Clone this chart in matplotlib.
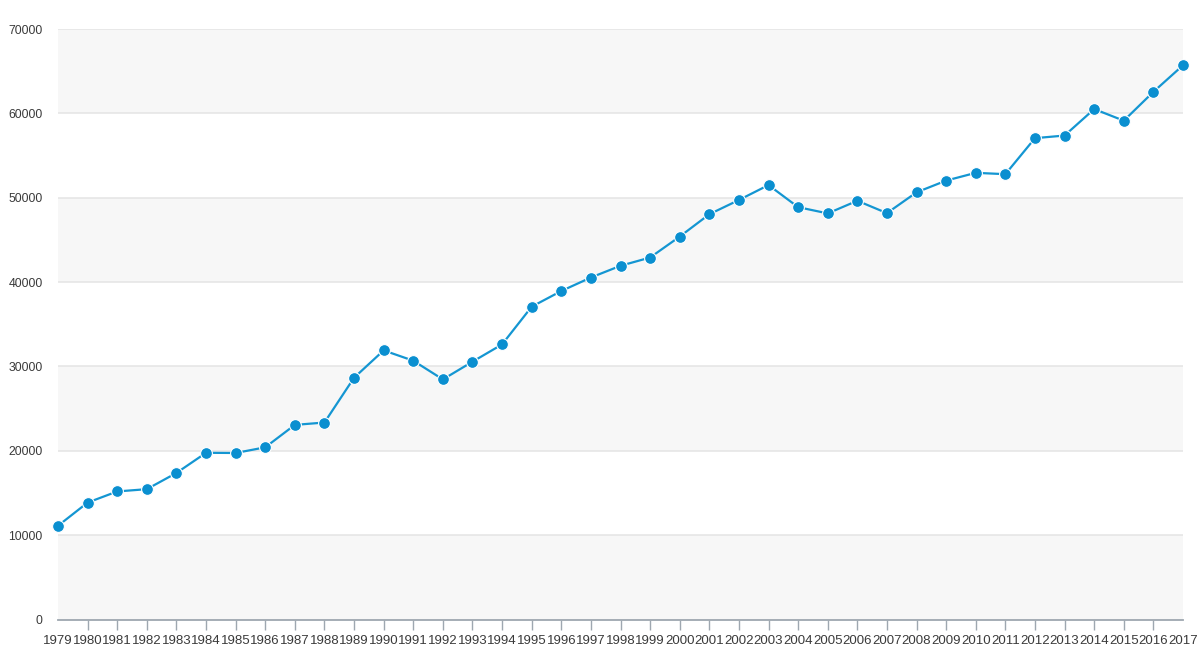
import matplotlib
matplotlib.use("Agg")
import matplotlib.pyplot as plt
from matplotlib.ticker import FixedLocator

plt.rcParams['font.family'] = ['Liberation Sans', 'DejaVu Sans']

years = list(range(1979, 2018))
values = [11110, 13860, 15180, 15450, 17370, 19760, 19740, 20410, 23070, 23350,
          28660, 31900, 30680, 28460, 30560, 32610, 37080, 38940, 40540, 41930,
          42910, 45390, 48040, 49730, 51500, 48880, 48140, 49640, 48170, 50640,
          52030, 52950, 52790, 57060, 57370, 60510, 59130, 62550, 65700]
y_ticks = [0, 10000, 20000, 30000, 40000, 50000, 60000, 70000]

W, H = 1197, 650
fig = plt.figure(figsize=(W / 100, H / 100), dpi=100)
ax = fig.add_axes([58 / W, (H - 619.5) / H, (1183 - 58) / W, (619.5 - 29) / H])

# alternating bands
for i in range(len(y_ticks) - 1):
    if i % 2 == 0:
        ax.axhspan(y_ticks[i], y_ticks[i + 1], facecolor='#f7f7f7', edgecolor='none', zorder=0)
for yv in y_ticks[1:]:
    ax.axhline(yv, color='#e6e6e6', linewidth=1.2, zorder=1)

ax.plot(years, values, color='#1496d2', linewidth=1.6, zorder=3,
        marker='o', markersize=8.5, markerfacecolor='#0a8fd0',
        markeredgecolor='white', markeredgewidth=0.8, clip_on=False)

ax.set_xlim(years[0], years[-1])
ax.set_ylim(0, 70000)

for s in ['top', 'right', 'left']:
    ax.spines[s].set_visible(False)
ax.spines['bottom'].set_color('#9ea7b0')
ax.spines['bottom'].set_linewidth(1.3)
ax.spines['bottom'].set_zorder(2)

ax.set_yticks(y_ticks)
ax.set_yticklabels([str(v) for v in y_ticks])
ax.tick_params(axis='y', length=0, pad=11, labelsize=8.8, labelcolor='#3a3a3a')

ax.xaxis.remove_overlapping_locs = False
ax.xaxis.set_major_locator(FixedLocator(years))
ax.set_xticklabels([str(y) for y in years])
ax.xaxis.set_minor_locator(FixedLocator(years[1:-1]))
ax.tick_params(axis='x', which='major', length=0, pad=11.5, labelsize=9.5, labelcolor='#3a3a3a')
ax.tick_params(axis='x', which='minor', length=7, width=1, color='#9ea7b0', direction='out')

fig.savefig('out.png', dpi=100, facecolor='white')
